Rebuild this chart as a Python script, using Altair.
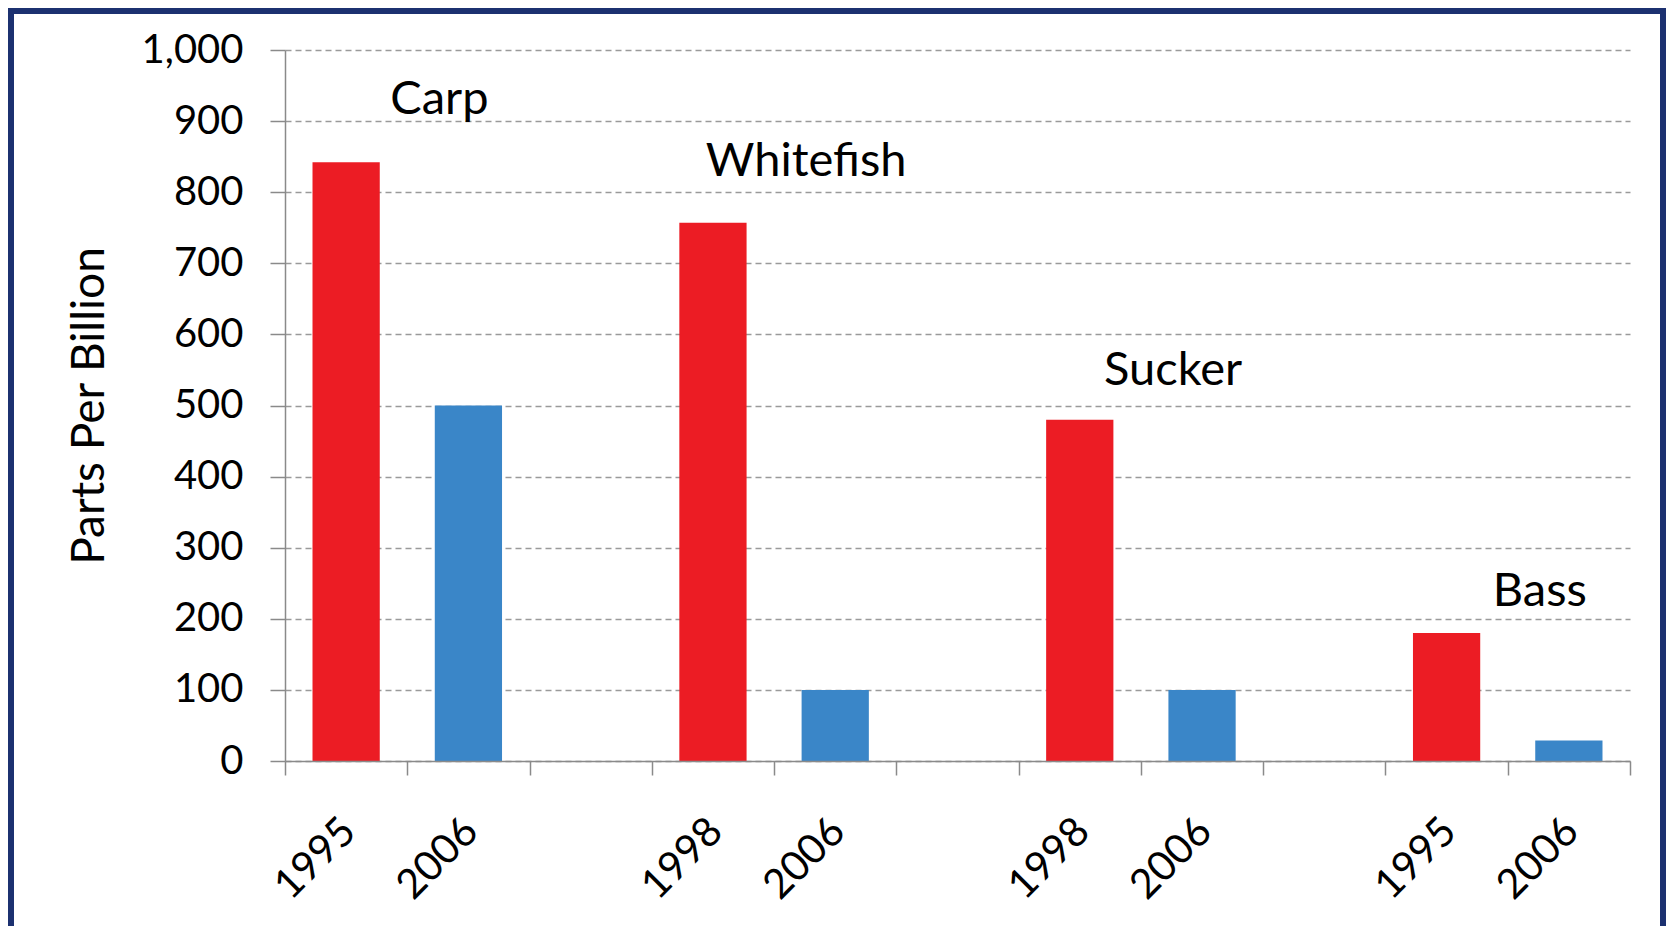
import altair as alt
import pandas as pd

# ---- data ----
fish = ["Carp", "Whitefish", "Sucker", "Bass"]
first_year = ["1995", "1998", "1998", "1995"]
first_ppb = [842, 757, 480, 180]
second_year = ["2006", "2006", "2006", "2006"]
second_ppb = [500, 100, 100, 29]
label_ppb = [930, 842, 548, 237]   # height of the species labels (ppb units)

# ---- build tables ----
domain = []
bar_rows = []
label_rows = []
for i, f in enumerate(fish):
    k1 = f"{f}-a|{first_year[i]}"
    k2 = f"{f}-b|{second_year[i]}"
    domain += [k1, k2]
    if i < len(fish) - 1:
        domain.append(f"gap{i}|")
    bar_rows.append({"key": k1, "ppb": first_ppb[i], "period": "first"})
    bar_rows.append({"key": k2, "ppb": second_ppb[i], "period": "second"})
    label_rows.append({"key": k2, "ppb": label_ppb[i], "fish": f})

bars_df = pd.DataFrame(bar_rows)
labels_df = pd.DataFrame(label_rows)

W, H = 1345, 711
PAD = {"left": 277, "top": 42, "right": 36, "bottom": 165}
FONT = "Lato"
AXIS_GRAY = "#8a8a8a"

x_enc = alt.X(
    "key:N",
    sort=domain,
    scale=alt.Scale(domain=domain, paddingInner=0, paddingOuter=0),
    axis=alt.Axis(
        title=None,
        tickBand="extent",
        labelExpr="split(datum.value, '|')[1]",
        labelAngle=-45,
        labelAlign="right",
        labelBaseline="middle",
        labelPadding=50,
        labelOffset=3,
        labelFont=FONT,
        labelFontSize=41,
        labelColor="black",
        tickSize=14,
        tickColor=AXIS_GRAY,
        tickWidth=1.5,
        domainColor=AXIS_GRAY,
        domainWidth=1.5,
        grid=False,
        zindex=1,
    ),
)

y_enc = alt.Y(
    "ppb:Q",
    scale=alt.Scale(domain=[0, 1000], nice=False),
    axis=alt.Axis(
        title="Parts Per Billion",
        titleFont=FONT,
        titleFontSize=46,
        titleFontWeight="normal",
        titleColor="black",
        titlePadding=28,
        values=list(range(0, 1001, 100)),
        format=",d",
        labelFont=FONT,
        labelFontSize=40,
        labelColor="black",
        labelPadding=27,
        tickSize=15,
        tickColor=AXIS_GRAY,
        tickWidth=1.5,
        domainColor=AXIS_GRAY,
        domainWidth=1.5,
        grid=True,
        gridColor="#9a9a9a",
        gridDash=[6, 4],
        gridWidth=1.3,
    ),
)

bars = alt.Chart(bars_df).mark_bar(width={"band": 0.55}).encode(
    x=x_enc,
    y=y_enc,
    color=alt.Color(
        "period:N",
        scale=alt.Scale(domain=["first", "second"], range=["#EC1C24", "#3A86C8"]),
        legend=None,
    ),
)

labels = alt.Chart(labels_df).mark_text(
    font=FONT, fontSize=47, dx=-29, align="center", baseline="middle", color="black"
).encode(x=alt.X("key:N", sort=domain), y="ppb:Q", text="fish:N")

frame = alt.Chart(pd.DataFrame({"k": [0]})).mark_rect(
    filled=False, stroke="#1c3170", strokeWidth=12
).encode(
    x=alt.value(-PAD["left"]),
    x2=alt.value(W + PAD["right"]),
    y=alt.value(-PAD["top"]),
    y2=alt.value(H + PAD["bottom"] + 40),
)

chart = (
    alt.layer(bars, labels, frame)
    .properties(
        width=W,
        height=H,
        padding=PAD,
        autosize=alt.AutoSizeParams(type="none"),
        background="white",
    )
    .configure_view(stroke=None)
)

chart.save("out.html", embed_options={"renderer": "svg", "actions": False})
